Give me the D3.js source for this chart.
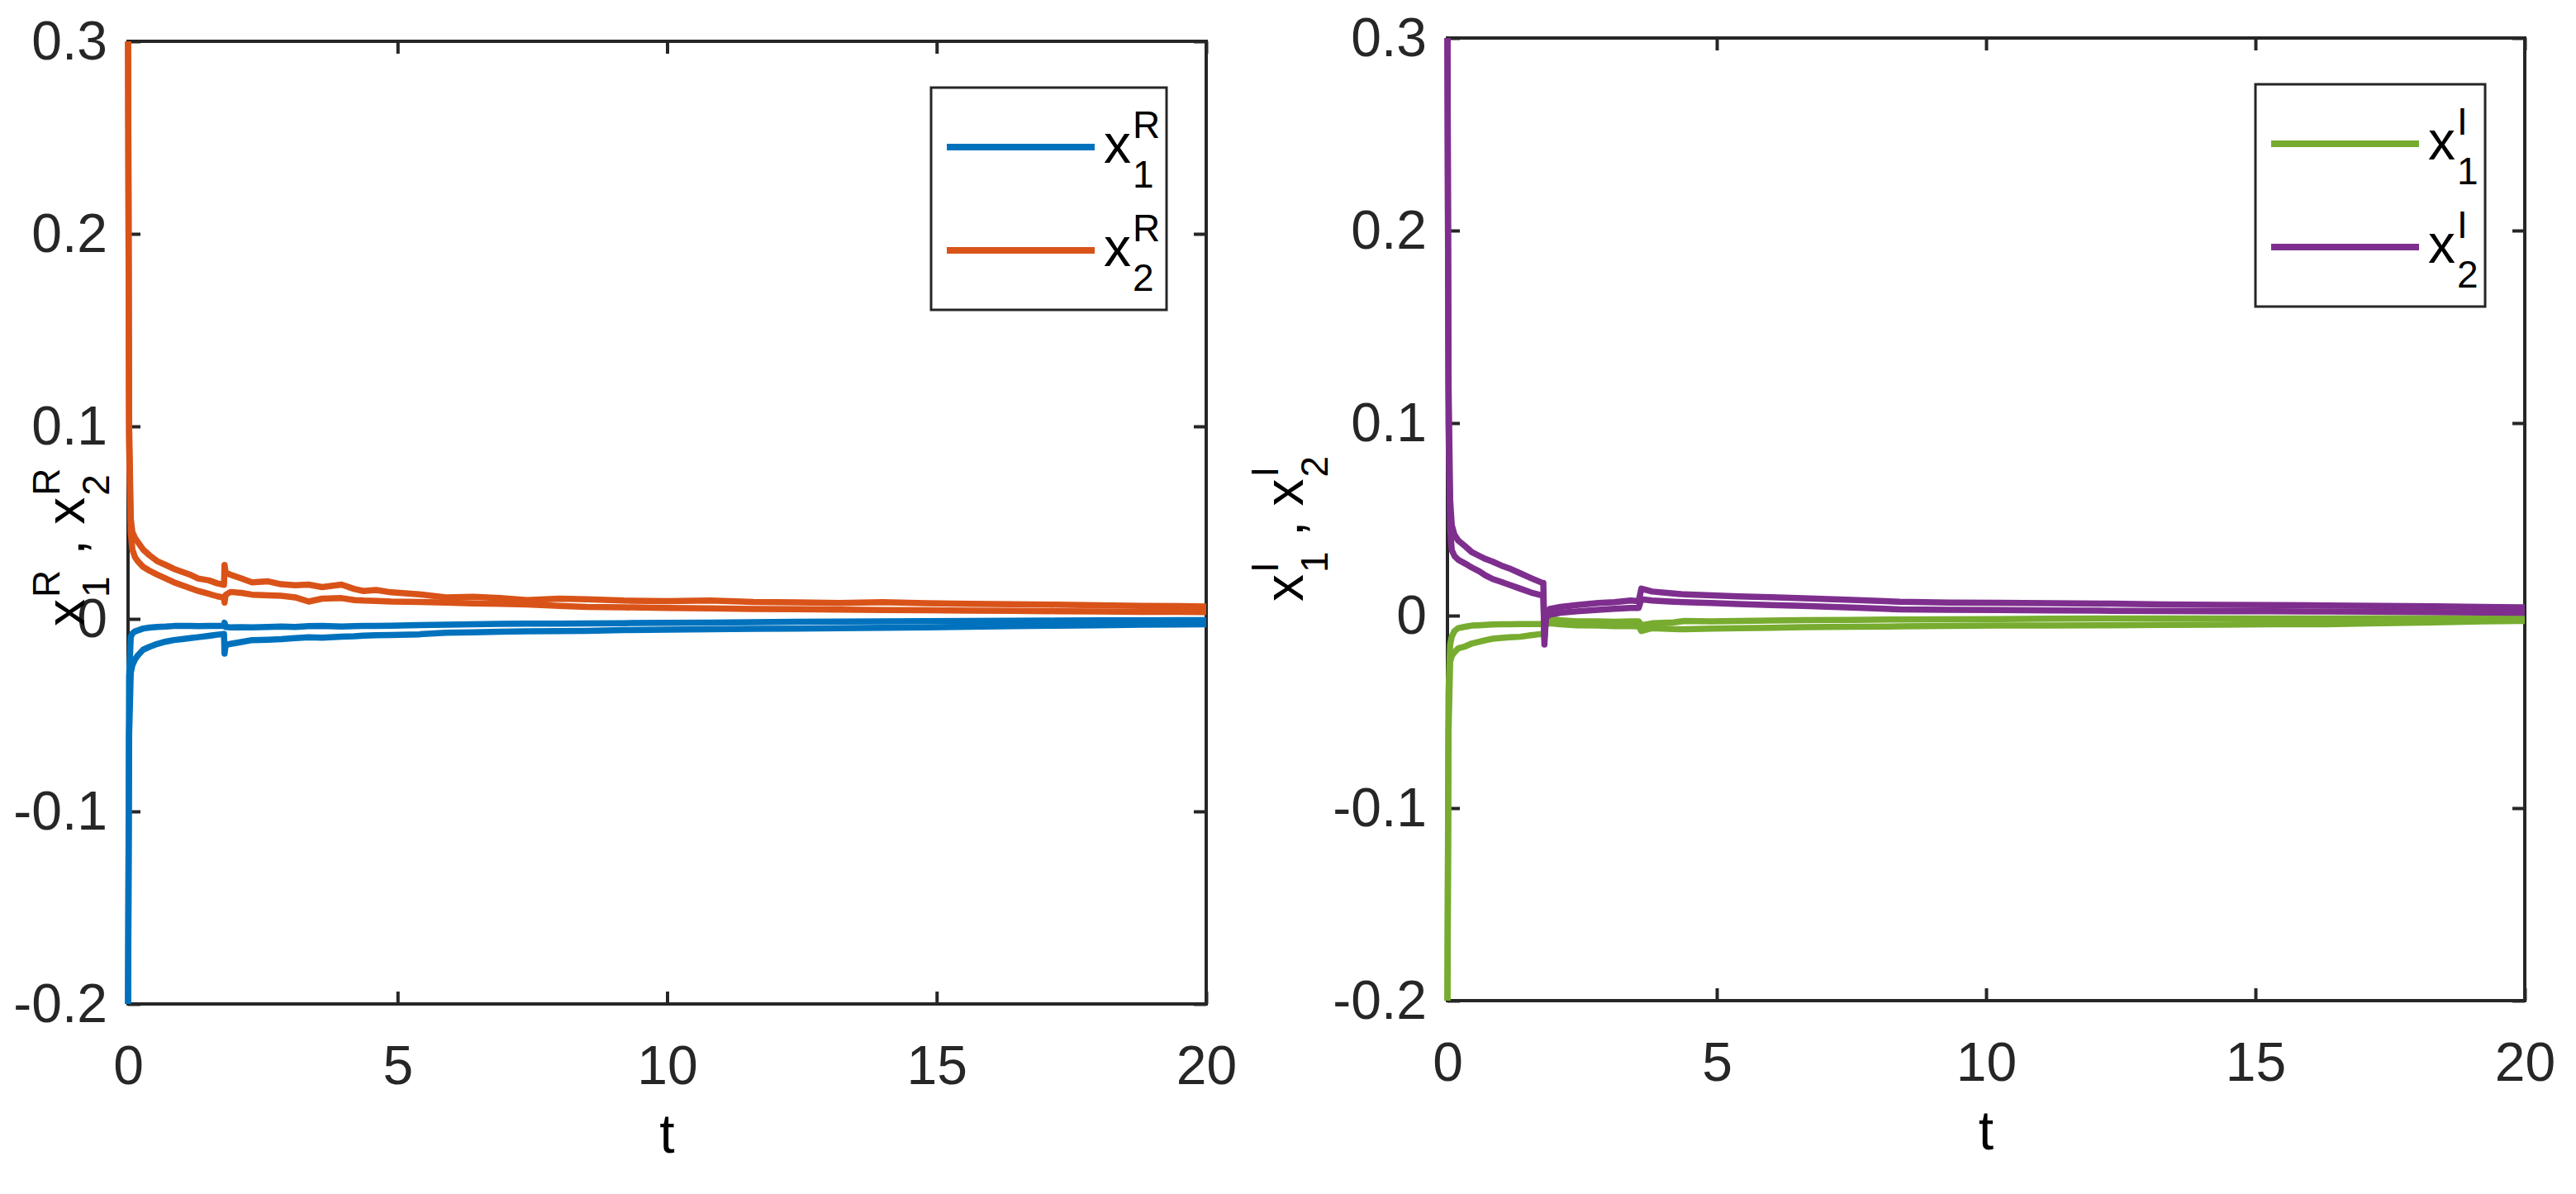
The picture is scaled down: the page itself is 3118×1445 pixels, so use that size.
<!DOCTYPE html>
<html>
<head>
<meta charset="utf-8">
<title>x^R and x^I trajectories</title>
<script src="https://cdn.jsdelivr.net/npm/d3@7"></script>
<style>
  body { margin: 0; background: #fff; }
  svg { display: block; font-family: "Liberation Sans", Arial, Helvetica, sans-serif; }
  .tick text { fill: #262626; }
</style>
</head>
<body>
<svg id="chart" width="3118" height="1445"></svg>
<script>
// ---- data ----
const tickT = [0, 5, 10, 15, 20];
const tickY = [-0.2, -0.1, 0, 0.1, 0.2, 0.3];

// left panel (real parts)
const timeR = [0, 0.02, 0.05, 0.08, 0.13, 0.18, 0.28, 0.4, 0.54, 0.7, 0.85, 1.0, 1.15, 1.3, 1.5, 1.65, 1.78, 1.79, 1.81, 1.9,
  2.1, 2.3, 2.6, 2.84, 3.1, 3.35, 3.6, 3.96, 4.2, 4.37, 4.6, 4.88, 5.4, 5.9, 6.4, 6.9, 7.4, 8.0, 8.5, 9.2,
  10, 10.8, 11.6, 12.4, 13.2, 14.0, 14.8, 15.6, 16.4, 17.2, 18.0, 18.8, 19.5, 20];
const x1R_a = [-0.2, -0.03, -0.0095, -0.0075, -0.0065, -0.006, -0.005, -0.0045, -0.0042, -0.004, -0.0037, -0.0037, -0.0036, -0.0038, -0.0037, -0.0036, -0.0037, -0.002, -0.0042, -0.0044,
  -0.0043, -0.0044, -0.0042, -0.004, -0.0042, -0.0038, -0.0036, -0.004, -0.0038, -0.0037, -0.0036, -0.0035, -0.0032, -0.003, -0.0028, -0.0026, -0.0025, -0.0025, -0.0024, -0.0022,
  -0.002, -0.0019, -0.0017, -0.0015, -0.0014, -0.0013, -0.0012, -0.0011, -0.001, -0.0009, -0.0008, -0.0007, -0.0006, -0.0006];
const x1R_b = [-0.2, -0.06, -0.028, -0.024, -0.021, -0.019, -0.016, -0.0145, -0.013, -0.0118, -0.011, -0.0105, -0.01, -0.0095, -0.0088, -0.0082, -0.0078, -0.018, -0.0135, -0.013,
  -0.012, -0.011, -0.0108, -0.0105, -0.01, -0.0095, -0.0098, -0.0092, -0.009, -0.0087, -0.0085, -0.0084, -0.008, -0.0072, -0.007, -0.0066, -0.0064, -0.0063, -0.0062, -0.0058,
  -0.0056, -0.0054, -0.0052, -0.005, -0.0048, -0.0046, -0.0044, -0.0041, -0.0038, -0.0035, -0.0033, -0.003, -0.0029, -0.0028];
const x2R_a = [0.3, 0.1, 0.052, 0.045, 0.042, 0.04, 0.036, 0.033, 0.03, 0.028, 0.026, 0.0245, 0.023, 0.021, 0.02, 0.0185, 0.0177, 0.028, 0.024, 0.023,
  0.021, 0.019, 0.0195, 0.018, 0.0175, 0.0178, 0.0165, 0.0178, 0.0155, 0.0145, 0.015, 0.0138, 0.0128, 0.0112, 0.0115, 0.0108, 0.0098, 0.0105, 0.0102, 0.0095,
  0.0092, 0.0096, 0.0088, 0.0086, 0.0083, 0.0087, 0.0082, 0.0078, 0.0076, 0.0074, 0.0071, 0.0068, 0.0066, 0.0064];
const x2R_b = [0.3, 0.09, 0.045, 0.036, 0.032, 0.03, 0.027, 0.025, 0.023, 0.021, 0.019, 0.0175, 0.016, 0.0145, 0.013, 0.0118, 0.011, 0.0085, 0.0125, 0.014,
  0.0135, 0.0126, 0.0122, 0.012, 0.0112, 0.009, 0.0105, 0.0108, 0.0098, 0.0095, 0.0093, 0.009, 0.0088, 0.0085, 0.008, 0.0078, 0.0075, 0.0068, 0.0062, 0.006,
  0.0057, 0.0055, 0.0052, 0.005, 0.0048, 0.0046, 0.0045, 0.0043, 0.0042, 0.004, 0.0039, 0.0037, 0.0036, 0.0035];

// right panel (imaginary parts)
const timeI = [0, 0.02, 0.05, 0.08, 0.13, 0.2, 0.33, 0.45, 0.59, 0.7, 0.84, 1.0, 1.15, 1.35, 1.55, 1.76, 1.78, 1.8, 1.83, 1.9,
  2.1, 2.4, 2.8, 3.1, 3.4, 3.55, 3.6, 3.8, 4.2, 4.4, 4.9, 5.4, 6.0, 6.6, 7.5, 8.4, 9.3, 10.2, 11.2, 12.3,
  13.3, 14.3, 15.3, 16.3, 17.3, 18.3, 19.2, 20];
const x1I_a = [-0.2, -0.04, -0.015, -0.011, -0.008, -0.0065, -0.0058, -0.0052, -0.005, -0.0048, -0.0046, -0.0045, -0.0045, -0.0044, -0.0044, -0.0044, -0.0044, -0.004, -0.002, -0.0015,
  -0.0025, -0.003, -0.003, -0.0032, -0.003, -0.003, -0.005, -0.004, -0.0035, -0.0028, -0.003, -0.0028, -0.0026, -0.0024, -0.0022, -0.002, -0.0019, -0.0018, -0.0016, -0.0015,
  -0.0015, -0.0015, -0.0015, -0.0015, -0.0014, -0.0014, -0.0014, -0.0014];
const x1I_b = [-0.2, -0.06, -0.024, -0.021, -0.019, -0.017, -0.016, -0.0145, -0.0136, -0.0128, -0.012, -0.0116, -0.0113, -0.011, -0.0102, -0.0095, -0.0095, -0.007, -0.0045, -0.004,
  -0.0045, -0.005, -0.0052, -0.0055, -0.0055, -0.0056, -0.008, -0.0065, -0.007, -0.0071, -0.0068, -0.0065, -0.0063, -0.006, -0.0058, -0.0056, -0.0054, -0.0052, -0.0051, -0.005,
  -0.0048, -0.0047, -0.0045, -0.0045, -0.004, -0.0035, -0.003, -0.0028];
const x2I_a = [0.3, 0.12, 0.06, 0.047, 0.042, 0.039, 0.036, 0.033, 0.031, 0.0295, 0.028, 0.026, 0.0245, 0.022, 0.0195, 0.017, 0.017, -0.015, 0.0015, 0.0035,
  0.0045, 0.0055, 0.0065, 0.007, 0.0078, 0.0075, 0.014, 0.0125, 0.0115, 0.011, 0.0105, 0.01, 0.0095, 0.009, 0.0082, 0.0072, 0.0068, 0.0066, 0.0064, 0.0062,
  0.0058, 0.0056, 0.0055, 0.0053, 0.005, 0.0048, 0.0045, 0.0043];
const x2I_b = [0.3, 0.1, 0.045, 0.034, 0.031, 0.029, 0.027, 0.025, 0.023, 0.021, 0.019, 0.0175, 0.016, 0.014, 0.012, 0.0105, 0.01, -0.012, -0.001, 0.0005,
  0.0015, 0.0022, 0.003, 0.0035, 0.004, 0.004, 0.0085, 0.0078, 0.0072, 0.007, 0.0065, 0.006, 0.0055, 0.005, 0.0042, 0.0032, 0.003, 0.0029, 0.0027, 0.0025,
  0.0024, 0.0023, 0.0022, 0.0021, 0.002, 0.0018, 0.0016, 0.0015];

const colorBlue = "#0072BD", colorOrange = "#D95319", colorGreen = "#77AC30", colorPurple = "#7E2F8E";
const axisColor = "#262626";
const fontSize = 66, scriptSize = 46;

var svg = d3.select("#chart");
svg.append("rect").attr("width", 3118).attr("height", 1445).attr("fill", "#fff");

// writes "x^a_b , x^c_d" style text, stacked scripts like TeX
function scriptText(g, parts) {
  var cursor = 0;
  parts.forEach(function(p) {
    var main = g.append("text").attr("x", cursor).attr("y", 0)
      .attr("font-size", fontSize).attr("fill", "#000")
      .style("white-space", "pre").text(p.t);
    cursor += main.node().getComputedTextLength();
    var w = 0;
    if (p.sup) {
      var s = g.append("text").attr("x", cursor + 2).attr("y", -30)
        .attr("font-size", scriptSize).attr("fill", "#000").text(p.sup);
      w = Math.max(w, s.node().getComputedTextLength());
    }
    if (p.sub) {
      var b = g.append("text").attr("x", cursor + 2).attr("y", 30)
        .attr("font-size", scriptSize).attr("fill", "#000").text(p.sub);
      w = Math.max(w, b.node().getComputedTextLength());
    }
    cursor += w ? w + 2 : 0;
  });
}

function drawPanel(cfg) {
  var x = d3.scaleLinear().domain([0, 20]).range([cfg.left, cfg.right]);
  var y = d3.scaleLinear().domain([-0.2, 0.3]).range([cfg.bottom, cfg.top]);
  var g = svg.append("g");

  // axes with inward ticks on all four sides
  var bottomAxis = d3.axisBottom(x).tickValues(tickT).tickSizeInner(-15).tickSizeOuter(0).tickPadding(50).tickFormat(d3.format("d"));
  var leftAxis = d3.axisLeft(y).tickValues(tickY).tickSizeInner(-15).tickSizeOuter(0).tickPadding(25).tickFormat(function(d) { return String(d); });
  var topAxis = d3.axisTop(x).tickValues(tickT).tickSizeInner(-15).tickSizeOuter(0).tickFormat("");
  var rightAxis = d3.axisRight(y).tickValues(tickY).tickSizeInner(-15).tickSizeOuter(0).tickFormat("");

  [[bottomAxis, "translate(0," + cfg.bottom + ")"], [leftAxis, "translate(" + cfg.left + ",0)"],
   [topAxis, "translate(0," + cfg.top + ")"], [rightAxis, "translate(" + cfg.right + ",0)"]].forEach(function(a) {
    var ax = g.append("g").attr("transform", a[1]).call(a[0]);
    ax.select(".domain").remove();
    ax.selectAll(".tick line").attr("stroke", axisColor).attr("stroke-width", 4);
    ax.selectAll(".tick text").attr("font-size", fontSize).attr("font-family", null);
  });
  g.append("rect")
    .attr("x", cfg.left).attr("y", cfg.top)
    .attr("width", cfg.right - cfg.left).attr("height", cfg.bottom - cfg.top)
    .attr("fill", "none").attr("stroke", axisColor).attr("stroke-width", 4);

  // data lines
  var line = d3.line().x(function(d) { return x(d[0]); }).y(function(d) { return y(d[1]); });
  cfg.series.forEach(function(s) {
    g.append("path")
      .datum(cfg.time.map(function(t, i) { return [t, s.values[i]]; }))
      .attr("d", line).attr("fill", "none")
      .attr("stroke", s.color).attr("stroke-width", 7.5)
      .attr("stroke-linejoin", "round");
  });

  // x label
  g.append("text").attr("x", (cfg.left + cfg.right) / 2).attr("y", cfg.bottom + 180)
    .attr("text-anchor", "middle").attr("font-size", fontSize).attr("fill", "#000").text("t");

  // y label, rotated
  var yl = g.append("g").attr("transform", "translate(" + cfg.ylabX + "," + cfg.ylabY + ") rotate(-90)");
  scriptText(yl, [{ t: "x", sup: cfg.sup, sub: "1" }, { t: " , " }, { t: "x", sup: cfg.sup, sub: "2" }]);

  // legend
  var lg = g.append("g").attr("transform", "translate(" + (cfg.right - 48 - cfg.legendW) + "," + (cfg.top + 56) + ")");
  lg.append("rect").attr("width", cfg.legendW).attr("height", 269)
    .attr("fill", "#fff").attr("stroke", axisColor).attr("stroke-width", 3);
  cfg.legend.forEach(function(e, i) {
    var ly = 72 + i * 125;
    lg.append("line").attr("x1", 19).attr("x2", 198).attr("y1", ly).attr("y2", ly)
      .attr("stroke", e.color).attr("stroke-width", 8);
    var lt = lg.append("g").attr("transform", "translate(209," + (ly + 19) + ")");
    scriptText(lt, [{ t: "x", sup: cfg.sup, sub: e.sub }]);
  });
}

drawPanel({
  left: 155, right: 1460, top: 50, bottom: 1215,
  time: timeR, sup: "R", ylabX: 102, ylabY: 758, legendW: 285,
  series: [
    { values: x1R_a, color: colorBlue }, { values: x1R_b, color: colorBlue },
    { values: x2R_a, color: colorOrange }, { values: x2R_b, color: colorOrange }
  ],
  legend: [{ sub: "1", color: colorBlue }, { sub: "2", color: colorOrange }]
});

drawPanel({
  left: 1752, right: 3056, top: 46, bottom: 1211,
  time: timeI, sup: "I", ylabX: 1577, ylabY: 728, legendW: 278,
  series: [
    { values: x1I_a, color: colorGreen }, { values: x1I_b, color: colorGreen },
    { values: x2I_a, color: colorPurple }, { values: x2I_b, color: colorPurple }
  ],
  legend: [{ sub: "1", color: colorGreen }, { sub: "2", color: colorPurple }]
});
</script>
</body>
</html>
